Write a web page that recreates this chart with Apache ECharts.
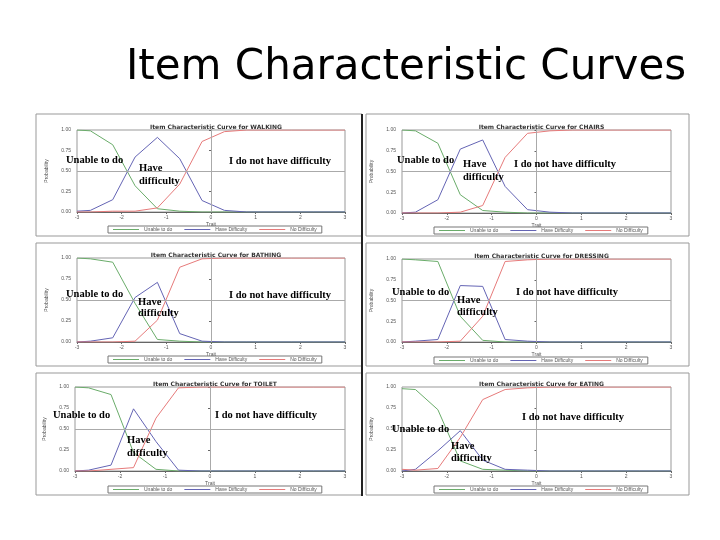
<!DOCTYPE html>
<html>
<head>
<meta charset="utf-8">
<script src="https://cdn.jsdelivr.net/npm/echarts@6/dist/echarts.min.js"></script>
<style>
  html, body { margin: 0; padding: 0; background: #fff; }
  #icc { width: 720px; height: 540px; }
</style>
</head>
<body>
<div id="icc"></div>
<script>
// trait values where the curves were sampled
const traitX = [-3, -2.7, -2.2, -1.7, -1.2, -0.7, -0.2, 0.3, 0.8, 1.3, 1.8, 2.3, 2.8, 3];
const categoryNames = ['Unable to do', 'Have Difficulty', 'No Difficulty'];
const itemNames = ['WALKING', 'CHAIRS', 'BATHING', 'DRESSING', 'TOILET', 'EATING'];

const walkingUnable = [1.00, 0.99, 0.82, 0.32, 0.04, 0.01, 0, 0, 0, 0, 0, 0, 0, 0];
const walkingHave   = [0.01, 0.02, 0.15, 0.67, 0.91, 0.65, 0.14, 0.02, 0, 0, 0, 0, 0, 0];
const walkingNone   = [0, 0, 0.01, 0.01, 0.05, 0.34, 0.86, 0.98, 1, 1, 1, 1, 1, 1];

const chairsUnable = [1.00, 0.99, 0.84, 0.22, 0.03, 0.01, 0, 0, 0, 0, 0, 0, 0, 0];
const chairsHave   = [0, 0.01, 0.16, 0.77, 0.88, 0.32, 0.04, 0.01, 0, 0, 0, 0, 0, 0];
const chairsNone   = [0, 0, 0, 0.01, 0.09, 0.67, 0.96, 0.99, 1, 1, 1, 1, 1, 1];

const bathingUnable = [1.00, 0.99, 0.95, 0.46, 0.03, 0.01, 0, 0, 0, 0, 0, 0, 0, 0];
const bathingHave   = [0, 0.01, 0.05, 0.53, 0.71, 0.10, 0.01, 0, 0, 0, 0, 0, 0, 0];
const bathingNone   = [0, 0, 0, 0.01, 0.26, 0.89, 0.99, 1, 1, 1, 1, 1, 1, 1];

const dressingUnable = [1.00, 0.99, 0.97, 0.31, 0.02, 0, 0, 0, 0, 0, 0, 0, 0, 0];
const dressingHave   = [0, 0.01, 0.03, 0.68, 0.67, 0.03, 0.01, 0, 0, 0, 0, 0, 0, 0];
const dressingNone   = [0, 0, 0, 0.01, 0.31, 0.97, 0.99, 1, 1, 1, 1, 1, 1, 1];

const toiletUnable = [1.00, 0.99, 0.91, 0.22, 0.02, 0, 0, 0, 0, 0, 0, 0, 0, 0];
const toiletHave   = [0, 0.01, 0.07, 0.74, 0.35, 0.01, 0, 0, 0, 0, 0, 0, 0, 0];
const toiletNone   = [0, 0, 0.02, 0.04, 0.63, 0.99, 1, 1, 1, 1, 1, 1, 1, 1];

const eatingUnable = [0.98, 0.97, 0.73, 0.12, 0.02, 0.01, 0, 0, 0, 0, 0, 0, 0, 0];
const eatingHave   = [0, 0.02, 0.24, 0.48, 0.13, 0.02, 0.01, 0, 0, 0, 0, 0, 0, 0];
const eatingNone   = [0.02, 0.01, 0.03, 0.40, 0.85, 0.97, 0.99, 1, 1, 1, 1, 1, 1, 1];

const curves = [
  [walkingUnable, walkingHave, walkingNone],
  [chairsUnable, chairsHave, chairsNone],
  [bathingUnable, bathingHave, bathingNone],
  [dressingUnable, dressingHave, dressingNone],
  [toiletUnable, toiletHave, toiletNone],
  [eatingUnable, eatingHave, eatingNone]
];

// layout of the six pasted screenshots (pixels)
const plotBoxes = [
  [77, 130, 268, 82], [402, 130, 269, 83],
  [77, 258, 268, 84], [402, 259, 269, 83],
  [75, 387, 270, 84], [402, 387, 269, 84]
];
const frames = [
  [36, 114, 326, 122], [366, 114, 323, 122],
  [36, 243, 326, 123], [366, 243, 323, 123],
  [36, 373, 326, 122], [366, 373, 323, 122]
];
const legendPos = [[108, 226], [434, 227], [108, 356], [434, 357], [108, 486], [434, 486]];
const notes = [
  [['Unable to do', 66, 160], ['Have', 139, 168], ['difficulty', 139, 181], ['I do not have difficulty', 229, 161]],
  [['Unable to do', 397, 160], ['Have', 463, 164], ['difficulty', 463, 177], ['I do not have difficulty', 514, 164]],
  [['Unable to do', 66, 294], ['Have', 138, 302], ['difficulty', 138, 313], ['I do not have difficulty', 229, 295]],
  [['Unable to do', 392, 292], ['Have', 457, 300], ['difficulty', 457, 312], ['I do not have difficulty', 516, 292]],
  [['Unable to do', 53, 415], ['Have', 127, 440], ['difficulty', 127, 453], ['I do not have difficulty', 215, 415]],
  [['Unable to do', 392, 429], ['Have', 451, 446], ['difficulty', 451, 458], ['I do not have difficulty', 522, 417]]
];
const colors = ['#6aac6a', '#6464b4', '#e67a7a'];

const titles = [{
  text: 'Item Characteristic Curves',
  left: 401,
  top: 42,
  textAlign: 'center',
  textStyle: { fontFamily: 'DejaVu Sans', fontSize: 42, fontWeight: 'normal', color: '#000' }
}];
const grids = [], xAxes = [], yAxes = [], legends = [], series = [], graphics = [];

itemNames.forEach((item, i) => {
  const [l, t, w, h] = plotBoxes[i];
  titles.push({
    text: 'Item Characteristic Curve for ' + item,
    left: l + w / 2,
    top: t - 11,
    textAlign: 'center',
    textStyle: { fontSize: 6, fontWeight: 'bold', color: '#333', fontFamily: 'DejaVu Sans' }
  });
  grids.push({ left: l, top: t, width: w, height: h, show: true, borderColor: '#999', borderWidth: 1 });
  xAxes.push({
    gridIndex: i, type: 'value', min: -3, max: 3, interval: 1,
    name: 'Trait', nameLocation: 'middle', nameGap: 10,
    nameTextStyle: { fontSize: 5, color: '#555' },
    axisLine: { onZero: false, lineStyle: { color: '#666' } },
    axisTick: { length: 2, lineStyle: { color: '#666' } },
    axisLabel: { fontSize: 5, color: '#555', margin: 3 },
    splitLine: { show: false }
  });
  yAxes.push({
    gridIndex: i, type: 'value', min: 0, max: 1, interval: 0.25,
    name: 'Probability', nameLocation: 'middle', nameGap: 28, nameRotate: 90,
    nameTextStyle: { fontSize: 5, color: '#555' },
    axisLine: { show: true, lineStyle: { color: '#666' } },
    axisTick: { show: true, length: 2, lineStyle: { color: '#666' } },
    axisLabel: { fontSize: 5, color: '#555', margin: 6, formatter: v => v.toFixed(2) },
    splitLine: { show: false }
  });
  legends.push({
    left: legendPos[i][0], top: legendPos[i][1],
    data: categoryNames, icon: 'rect', itemWidth: 26, itemHeight: 1, itemGap: 12,
    padding: [1, 5], borderColor: '#777', borderWidth: 1,
    textStyle: { fontSize: 5, color: '#555' }
  });
  curves[i].forEach((vals, k) => {
    const s = {
      name: categoryNames[k], type: 'line', xAxisIndex: i, yAxisIndex: i,
      data: traitX.map((x, j) => [x, vals[j]]),
      symbol: 'none', color: colors[k],
      itemStyle: { color: colors[k] },
      lineStyle: { width: 1, color: colors[k] }
    };
    if (k === 0) {
      s.markLine = {
        silent: true, symbol: 'none', label: { show: false },
        lineStyle: { color: '#aaa', type: 'solid', width: 1 },
        data: [{ xAxis: 0 }, { yAxis: 0.5 }]
      };
    }
    series.push(s);
  });
  const [fx, fy, fw, fh] = frames[i];
  graphics.push({
    type: 'rect', z: 0, silent: true,
    shape: { x: fx, y: fy, width: fw, height: fh },
    style: { fill: 'none', stroke: '#999', lineWidth: 1 }
  });
  notes[i].forEach(([txt, x, y]) => {
    graphics.push({
      type: 'text', z: 100, silent: true,
      style: {
        text: txt, x: x, y: y, fill: '#000',
        font: 'bold 10.5px "Liberation Serif"',
        textVerticalAlign: 'middle', verticalAlign: 'middle'
      }
    });
  });
});

// dark divider between the two columns of screenshots
graphics.push({
  type: 'line', z: 1, silent: true,
  shape: { x1: 362, y1: 114, x2: 362, y2: 496 },
  style: { stroke: '#222', lineWidth: 2 }
});

const option = {
  animation: false,
  backgroundColor: '#fff',
  title: titles,
  grid: grids,
  xAxis: xAxes,
  yAxis: yAxes,
  legend: legends,
  series,
  graphic: graphics
};

const chart = echarts.init(document.getElementById('icc'));
chart.setOption(option);
</script>
</body>
</html>
